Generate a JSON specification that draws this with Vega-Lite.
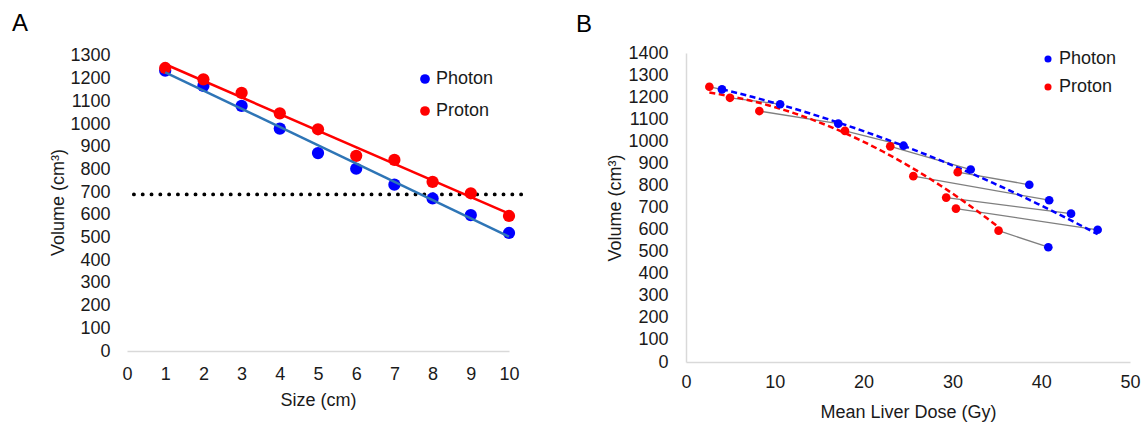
{
  "$schema": "https://vega.github.io/schema/vega-lite/v6.json",
  "padding": {"left": 12, "top": 11, "right": 5, "bottom": 5},
  "background": "white",
  "config": {
    "view": {"stroke": null},
    "font": "Liberation Sans",
    "axis": {"labelFont": "Liberation Sans", "titleFont": "Liberation Sans", "labelFontSize": 18, "titleFontSize": 18, "labelColor": "#1a1a1a", "titleColor": "#1a1a1a", "titleFontWeight": "normal", "grid": false, "ticks": false, "domainColor": "#d9d9d9", "domainWidth": 1.5, "labelOverlap": false, "labelFlush": false, "labelSeparation": -50},
    "legend": {"labelFont": "Liberation Sans", "labelFontSize": 18, "labelColor": "#1a1a1a", "title": null, "padding": 0, "symbolStrokeWidth": 0, "symbolType": "circle"},
    "title": {"font": "Liberation Sans", "fontSize": 24, "fontWeight": "normal", "color": "#000000", "anchor": "start", "frame": "group"}
  },
  "datasets": {
    "sizes": [
      {"size": 1, "volume": 1235, "modality": "Photon"},
      {"size": 2, "volume": 1168, "modality": "Photon"},
      {"size": 3, "volume": 1080, "modality": "Photon"},
      {"size": 4, "volume": 980, "modality": "Photon"},
      {"size": 5, "volume": 872, "modality": "Photon"},
      {"size": 6, "volume": 803, "modality": "Photon"},
      {"size": 7, "volume": 733, "modality": "Photon"},
      {"size": 8, "volume": 672, "modality": "Photon"},
      {"size": 9, "volume": 599, "modality": "Photon"},
      {"size": 10, "volume": 520, "modality": "Photon"},
      {"size": 1, "volume": 1247, "modality": "Proton"},
      {"size": 2, "volume": 1197, "modality": "Proton"},
      {"size": 3, "volume": 1137, "modality": "Proton"},
      {"size": 4, "volume": 1047, "modality": "Proton"},
      {"size": 5, "volume": 977, "modality": "Proton"},
      {"size": 6, "volume": 860, "modality": "Proton"},
      {"size": 7, "volume": 842, "modality": "Proton"},
      {"size": 8, "volume": 745, "modality": "Proton"},
      {"size": 9, "volume": 695, "modality": "Proton"},
      {"size": 10, "volume": 595, "modality": "Proton"}
    ],
    "doses": [
      {"size": 1, "dose": 4.05, "volume": 1235, "modality": "Photon"},
      {"size": 2, "dose": 10.6, "volume": 1168, "modality": "Photon"},
      {"size": 3, "dose": 17.15, "volume": 1080, "modality": "Photon"},
      {"size": 4, "dose": 24.5, "volume": 980, "modality": "Photon"},
      {"size": 5, "dose": 32.06, "volume": 872, "modality": "Photon"},
      {"size": 6, "dose": 38.66, "volume": 803, "modality": "Photon"},
      {"size": 7, "dose": 40.9, "volume": 733, "modality": "Photon"},
      {"size": 8, "dose": 43.36, "volume": 672, "modality": "Photon"},
      {"size": 9, "dose": 46.36, "volume": 599, "modality": "Photon"},
      {"size": 10, "dose": 40.8, "volume": 520, "modality": "Photon"},
      {"size": 1, "dose": 2.63, "volume": 1247, "modality": "Proton"},
      {"size": 2, "dose": 4.95, "volume": 1197, "modality": "Proton"},
      {"size": 3, "dose": 8.26, "volume": 1137, "modality": "Proton"},
      {"size": 4, "dose": 17.9, "volume": 1047, "modality": "Proton"},
      {"size": 5, "dose": 23.0, "volume": 977, "modality": "Proton"},
      {"size": 6, "dose": 30.6, "volume": 860, "modality": "Proton"},
      {"size": 7, "dose": 25.6, "volume": 842, "modality": "Proton"},
      {"size": 8, "dose": 29.3, "volume": 745, "modality": "Proton"},
      {"size": 9, "dose": 30.4, "volume": 695, "modality": "Proton"},
      {"size": 10, "dose": 35.2, "volume": 595, "modality": "Proton"}
    ],
    "cutoff": [
      {"start": 0.18, "end": 10.33, "volume": 690}
    ]
  },
  "spacing": 52,
  "hconcat": [
    {
      "title": {"text": "A", "dx": -115, "offset": 11},
      "width": 382,
      "height": 298,
      "encoding": {
        "x": {"type": "quantitative", "scale": {"domain": [0, 10], "nice": false}, "axis": {"title": "Size (cm)", "values": [0,1,2,3,4,5,6,7,8,9,10], "tickCount": 11, "format": "d", "labelOverlap": false, "labelFlush": false, "labelPadding": 14, "titlePadding": 8, "domain": true}},
        "y": {"field": "volume", "type": "quantitative", "scale": {"domain": [0, 1313], "nice": false}, "axis": {"title": "Volume (cm³)", "values": [0,100,200,300,400,500,600,700,800,900,1000,1100,1200,1300], "tickCount": 14, "format": "d", "labelOverlap": false, "labelFlush": false, "labelPadding": 17, "titlePadding": 2, "domain": false}}
      },
      "layer": [
        {
          "data": {"name": "cutoff"},
          "mark": {"type": "rule", "color": "#000000", "strokeWidth": 3.8, "strokeCap": "round", "strokeDash": [0.1, 8.7]},
          "encoding": {
            "x": {"field": "start"},
            "x2": {"field": "end"}
          }
        },
        {
          "data": {"name": "sizes"},
          "mark": {"type": "point", "filled": true, "opacity": 1, "size": 150},
          "encoding": {
            "x": {"field": "size"},
            "color": {"field": "modality", "type": "nominal", "scale": {"domain": ["Photon", "Proton"], "range": ["#0000ff", "#ff0000"]}, "legend": {"orient": "none", "legendX": 289, "legendY": 17, "symbolSize": 95, "rowPadding": 14, "labelOffset": 2}}
          }
        },
        {
          "data": {"name": "sizes"},
          "transform": [{"filter": "datum.modality === 'Photon'"}, {"regression": "volume", "on": "size"}],
          "mark": {"type": "line", "color": "#2e75b6", "strokeWidth": 2.5},
          "encoding": {
            "x": {"field": "size"}
          }
        },
        {
          "data": {"name": "sizes"},
          "transform": [{"filter": "datum.modality === 'Proton'"}, {"regression": "volume", "on": "size"}],
          "mark": {"type": "line", "color": "#ff0000", "strokeWidth": 2.5},
          "encoding": {
            "x": {"field": "size"}
          }
        }
      ]
    },
    {
      "title": {"text": "B", "dx": -110, "offset": 7},
      "width": 444,
      "height": 309,
      "encoding": {
        "x": {"field": "dose", "type": "quantitative", "scale": {"domain": [0, 50], "nice": false}, "axis": {"title": "Mean Liver Dose (Gy)", "values": [0,10,20,30,40,50], "format": "d", "labelOverlap": false, "labelFlush": false, "labelPadding": 11, "titlePadding": 12, "domain": true}},
        "y": {"field": "volume", "type": "quantitative", "scale": {"domain": [0, 1400], "nice": false}, "axis": {"title": "Volume (cm³)", "values": [0,100,200,300,400,500,600,700,800,900,1000,1100,1200,1300,1400], "tickCount": 15, "format": "d", "labelOverlap": false, "labelFlush": false, "labelPadding": 18, "titlePadding": 3, "domain": true}}
      },
      "layer": [
        {
          "data": {"name": "doses"},
          "mark": {"type": "line", "color": "#7f7f7f", "strokeWidth": 1.3},
          "encoding": {
            "detail": {"field": "size", "type": "nominal"}
          }
        },
        {
          "data": {"name": "doses"},
          "transform": [{"filter": "datum.modality === 'Photon'"}, {"regression": "volume", "on": "dose", "method": "poly", "order": 2}],
          "mark": {"type": "line", "color": "#0000ff", "strokeWidth": 2.5, "strokeDash": [6, 3.5]}
        },
        {
          "data": {"name": "doses"},
          "transform": [{"filter": "datum.modality === 'Proton'"}, {"regression": "volume", "on": "dose", "method": "poly", "order": 2}],
          "mark": {"type": "line", "color": "#ff0000", "strokeWidth": 2.5, "strokeDash": [6, 3.5]}
        },
        {
          "data": {"name": "doses"},
          "mark": {"type": "point", "filled": true, "opacity": 1, "size": 75},
          "encoding": {
            "color": {"field": "modality", "type": "nominal", "scale": {"domain": ["Photon", "Proton"], "range": ["#0000ff", "#ff0000"]}, "legend": {"orient": "none", "legendX": 353, "legendY": -3, "symbolSize": 50, "rowPadding": 10, "labelOffset": 2}}
          }
        }
      ]
    }
  ],
  "resolve": {"scale": {"color": "independent"}, "legend": {"color": "independent"}}
}
